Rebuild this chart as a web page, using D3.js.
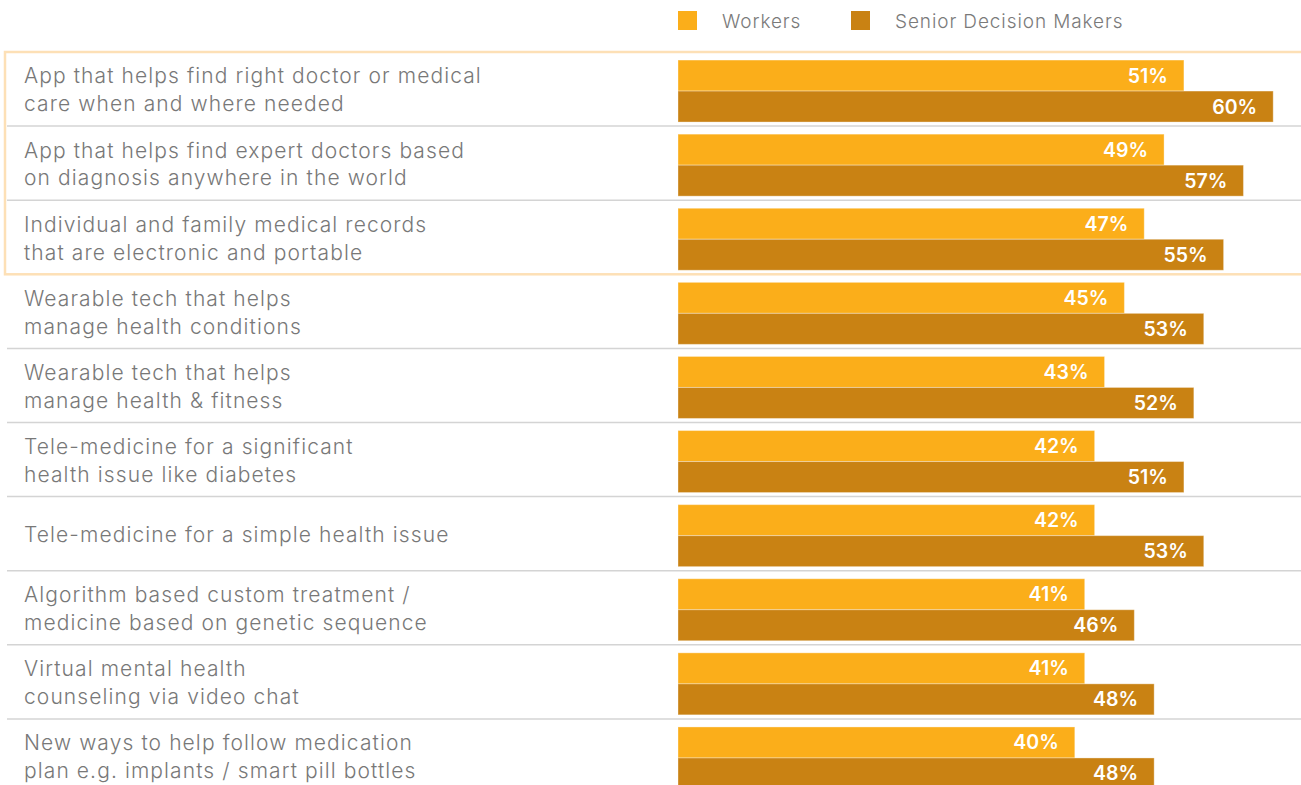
<!DOCTYPE html>
<html>
<head>
<meta charset="utf-8">
<script src="https://cdn.jsdelivr.net/npm/d3@7"></script>
<style>
  body { margin: 0; background: #fff; }
  svg text { font-family: Inter, "Noto Sans", sans-serif; }
</style>
</head>
<body>
<svg id="chart" width="1301" height="785"></svg>
<script>
// label lines for each item (top to bottom)
const categories = [
  ['App that helps find right doctor or medical', 'care when and where needed'],
  ['App that helps find expert doctors based', 'on diagnosis anywhere in the world'],
  ['Individual and family medical records', 'that are electronic and portable'],
  ['Wearable tech that helps', 'manage health conditions'],
  ['Wearable tech that helps', 'manage health & fitness'],
  ['Tele-medicine for a significant', 'health issue like diabetes'],
  ['Tele-medicine for a simple health issue'],
  ['Algorithm based custom treatment /', 'medicine based on genetic sequence'],
  ['Virtual mental health', 'counseling via video chat'],
  ['New ways to help follow medication', 'plan e.g. implants / smart pill bottles']
];
const workers = [51, 49, 47, 45, 43, 42, 42, 41, 41, 40];
const seniors = [60, 57, 55, 53, 52, 51, 53, 46, 48, 48];
const seriesNames = ['Workers', 'Senior Decision Makers'];
const highlighted = 3; // first three rows sit in the highlight box

const colors = ['#fbae1a', '#c98213'];

const svg = d3.select('#chart');
const width = +svg.attr('width');

const rowIds = categories.map((c, i) => i);
const rowScale = d3.scaleBand().domain(rowIds).range([52, 793]);
const xScale = d3.scaleLinear().domain([0, 100]).range([678, 1670]);
const barH = 31;

// legend
const legend = svg.append('g');
const legendX = [678, 851];
seriesNames.forEach((name, i) => {
  legend.append('rect')
    .attr('x', legendX[i]).attr('y', 11)
    .attr('width', 19).attr('height', 19)
    .style('fill', colors[i]);
  legend.append('text')
    .attr('x', legendX[i] + 44).attr('y', 21)
    .attr('dy', '0.35em')
    .style('font-size', '19px')
    .style('font-weight', 300)
    .style('letter-spacing', '0.9px')
    .style('fill', '#7a7a7a')
    .text(name);
});

// row separators
rowIds.slice(1).forEach(i => {
  if (i === highlighted) return;
  svg.append('line')
    .attr('x1', 7).attr('x2', width)
    .attr('y1', rowScale(i)).attr('y2', rowScale(i))
    .style('stroke', '#d4d4d4')
    .style('stroke-width', 1.5);
});

// rows
const rows = svg.selectAll('g.row')
  .data(rowIds)
  .enter().append('g')
  .attr('class', 'row')
  .attr('transform', i => `translate(0,${rowScale(i) + rowScale.bandwidth() / 2})`);

rows.each(function (i) {
  const g = d3.select(this);
  const lines = categories[i];
  lines.forEach((line, k) => {
    g.append('text')
      .attr('x', 24)
      .attr('y', (k - (lines.length - 1) / 2) * 28 + 1)
      .attr('dy', '0.35em')
      .style('font-size', '21px')
      .style('font-weight', 300)
      .style('letter-spacing', '1.1px')
      .style('fill', '#787878')
      .text(line);
  });

  [workers[i], seniors[i]].forEach((v, s) => {
    const y = s === 0 ? -barH + 2 : 2;
    g.append('rect')
      .attr('x', xScale(0))
      .attr('y', y)
      .attr('width', xScale(v) - xScale(0))
      .attr('height', barH)
      .style('fill', colors[s])
      .style('stroke', 'rgba(255,255,255,0.35)')
      .style('stroke-width', 1);
    g.append('text')
      .attr('x', xScale(v) - 16)
      .attr('y', y + barH / 2)
      .attr('dy', '0.36em')
      .attr('text-anchor', 'end')
      .style('font-size', '19.5px')
      .style('font-weight', 600)
      .style('fill', '#fff')
      .text(v + '%');
  });
});

// highlight box around the top three rows
svg.append('rect')
  .attr('x', 5)
  .attr('y', rowScale(0))
  .attr('width', width)
  .attr('height', rowScale(highlighted) - rowScale(0))
  .style('fill', 'none')
  .style('stroke', '#fde0b6')
  .style('stroke-width', 2.5);
</script>
</body>
</html>
